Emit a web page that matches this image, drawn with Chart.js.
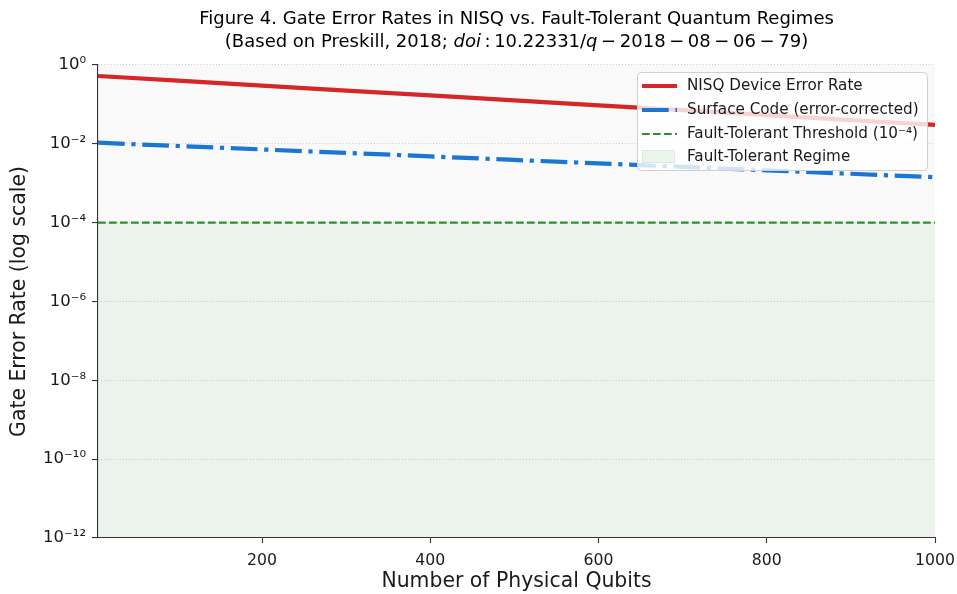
<!DOCTYPE html>
<html>
<head>
<meta charset="utf-8">
<script src="https://cdn.jsdelivr.net/npm/chart.js@4.4.1/dist/chart.umd.min.js"></script>
<style>
    html, body { margin: 0; padding: 0; background: #ffffff; }
    #chart { display: block; }
</style>
</head>
<body>
<canvas id="chart" width="957" height="594"></canvas>
<script>
// 値
const qubits = [5, 100, 200, 300, 400, 500, 600, 700, 800, 900, 1000];
const nisqErrorRate = [0.526, 0.40, 0.30, 0.225, 0.169, 0.127, 0.095, 0.0713, 0.0534, 0.0401, 0.0301];
const surfaceCodeErrorRate = [0.0107, 0.0088, 0.0072, 0.0059, 0.0048, 0.0039, 0.0032, 0.0026, 0.00213, 0.00174, 0.00142];
const thresholdValue = 1e-4;
const regimeFloor = 1e-12;
const xTicks = [200, 400, 600, 800, 1000];
const yTickExponents = [-12, -10, -8, -6, -4, -2, 0];

const titleLine1 = 'Figure 4. Gate Error Rates in NISQ vs. Fault-Tolerant Quantum Regimes';
const titleLine2 = [
    { text: '(Based on Preskill, 2018; ', italic: false },
    { text: 'doi', italic: true },
    { text: '\u2009:\u200910.22331/', italic: false },
    { text: 'q', italic: true },
    { text: '\u2009\u2212\u20092018\u2009\u2212\u200908\u2009\u2212\u200906\u2009\u2212\u200979)', italic: false }
];
const legendLabels = ['NISQ Device Error Rate', 'Surface Code (error-corrected)', 'Fault-Tolerant Threshold (10\u207B\u2074)', 'Fault-Tolerant Regime'];

const FONT = '"DejaVu Sans", "Liberation Sans", sans-serif';
const RED = '#d62728';
const BLUE = '#1976d2';
const GREEN = '#2b922b';
const REGIME_FILL = 'rgba(0, 128, 0, 0.05)';

const SUP = { '-': '\u207B', '0': '\u2070', '1': '\u00B9', '2': '\u00B2', '3': '\u00B3', '4': '\u2074', '5': '\u2075', '6': '\u2076', '7': '\u2077', '8': '\u2078', '9': '\u2079' };
function powerLabel(exp) {
    return '10' + String(exp).split('').map(c => SUP[c]).join('');
}

function toPoints(ys) {
    return qubits.map((x, i) => ({ x: x, y: ys[i] }));
}

// 背景（プロット領域は薄いグレー）
const backgroundPlugin = {
    id: 'areaBackground',
    beforeDraw(chart) {
        const { ctx, chartArea } = chart;
        ctx.save();
        ctx.fillStyle = '#ffffff';
        ctx.fillRect(0, 0, chart.width, chart.height);
        ctx.fillStyle = '#f9f9f9';
        ctx.fillRect(chartArea.left, chartArea.top, chartArea.right - chartArea.left, chartArea.bottom - chartArea.top);
        ctx.restore();
    }
};

// タイトル（2行目は斜体を含む）
const titlePlugin = {
    id: 'figureTitle',
    afterDraw(chart) {
        const { ctx, chartArea } = chart;
        const cx = (chartArea.left + chartArea.right) / 2;
        const size = 18;
        ctx.save();
        ctx.fillStyle = '#000000';
        ctx.textBaseline = 'middle';
        ctx.textAlign = 'center';
        ctx.font = size + 'px ' + FONT;
        ctx.fillText(titleLine1, cx, 19);

        let total = 0;
        titleLine2.forEach(p => {
            ctx.font = (p.italic ? 'italic ' : '') + size + 'px ' + FONT;
            p.w = ctx.measureText(p.text).width;
            total += p.w;
        });
        ctx.textAlign = 'left';
        let x = cx - total / 2;
        titleLine2.forEach(p => {
            ctx.font = (p.italic ? 'italic ' : '') + size + 'px ' + FONT;
            ctx.fillText(p.text, x, 42);
            x += p.w;
        });
        ctx.restore();
    }
};

// 凡例（右上、半透明の白い箱）
const legendPlugin = {
    id: 'boxLegend',
    afterDraw(chart) {
        const ctx = chart.ctx;
        const box = { x: 637.5, y: 72.5, w: 290, h: 98 };
        ctx.save();
        ctx.beginPath();
        ctx.roundRect(box.x, box.y, box.w, box.h, 4);
        ctx.fillStyle = 'rgba(255, 255, 255, 0.8)';
        ctx.fill();
        ctx.strokeStyle = '#d0d0d0';
        ctx.lineWidth = 1;
        ctx.stroke();

        const x0 = 642, x1 = 677, textX = 687;
        const rows = [86, 110, 134, 157];
        ctx.lineCap = 'butt';

        // NISQ
        ctx.strokeStyle = RED;
        ctx.lineWidth = 4.2;
        ctx.setLineDash([]);
        ctx.beginPath(); ctx.moveTo(x0, rows[0]); ctx.lineTo(x1, rows[0]); ctx.stroke();

        // Surface code
        ctx.strokeStyle = BLUE;
        ctx.setLineDash([26.7, 6.7, 4.2, 6.7]);
        ctx.beginPath(); ctx.moveTo(x0, rows[1]); ctx.lineTo(x1, rows[1]); ctx.stroke();

        // Threshold
        ctx.strokeStyle = GREEN;
        ctx.lineWidth = 2.1;
        ctx.setLineDash([7.7, 3.3]);
        ctx.beginPath(); ctx.moveTo(x0, rows[2]); ctx.lineTo(x1, rows[2]); ctx.stroke();

        // Regime patch
        ctx.setLineDash([]);
        ctx.fillStyle = 'rgba(0, 128, 0, 0.07)';
        ctx.fillRect(x0, rows[3] - 7, x1 - x0 - 2, 13);
        ctx.strokeStyle = 'rgba(0, 128, 0, 0.08)';
        ctx.lineWidth = 1;
        ctx.strokeRect(x0 + 0.5, rows[3] - 6.5, x1 - x0 - 3, 12);

        ctx.fillStyle = '#1a1a1a';
        ctx.font = '15.2px ' + FONT;
        ctx.textBaseline = 'middle';
        ctx.textAlign = 'left';
        legendLabels.forEach((label, i) => ctx.fillText(label, textX, rows[i]));
        ctx.restore();
    }
};

const ctx = document.getElementById('chart').getContext('2d');
new Chart(ctx, {
    type: 'line',
    data: {
        datasets: [
            {
                label: legendLabels[0],
                data: toPoints(nisqErrorRate),
                borderColor: RED,
                borderWidth: 4.2,
                borderCapStyle: 'butt',
                pointRadius: 0,
                tension: 0,
                fill: false,
                order: 1
            },
            {
                label: legendLabels[1],
                data: toPoints(surfaceCodeErrorRate),
                borderColor: BLUE,
                borderWidth: 4.2,
                borderCapStyle: 'butt',
                borderDash: [26.7, 6.7, 4.2, 6.7],
                pointRadius: 0,
                tension: 0,
                fill: false,
                order: 2
            },
            {
                label: legendLabels[2],
                data: [{ x: qubits[0], y: thresholdValue }, { x: qubits[qubits.length - 1], y: thresholdValue }],
                borderColor: GREEN,
                borderWidth: 2.1,
                borderCapStyle: 'butt',
                borderDash: [7.7, 3.3],
                pointRadius: 0,
                fill: false,
                order: 3
            },
            {
                label: legendLabels[3],
                data: [{ x: qubits[0], y: thresholdValue }, { x: qubits[qubits.length - 1], y: thresholdValue }],
                borderWidth: 0,
                borderColor: 'rgba(0,0,0,0)',
                backgroundColor: REGIME_FILL,
                pointRadius: 0,
                fill: { value: regimeFloor },
                order: 4
            }
        ]
    },
    options: {
        responsive: false,
        devicePixelRatio: 1,
        animation: false,
        layout: { padding: { left: 0, top: 65, right: 22, bottom: 0 } },
        plugins: {
            legend: { display: false },
            title: { display: false },
            tooltip: { enabled: false }
        },
        scales: {
            x: {
                type: 'linear',
                min: qubits[0],
                max: qubits[qubits.length - 1],
                afterBuildTicks: scale => { scale.ticks = xTicks.map(v => ({ value: v })); },
                afterFit: scale => {
                    scale.height = 56;
                    scale.paddingLeft = 0;
                    scale.paddingRight = 0;
                },
                grid: {
                    drawOnChartArea: false,
                    drawTicks: true,
                    tickLength: 5,
                    tickColor: '#333333',
                    tickWidth: 1.1
                },
                border: { display: true, color: '#333333', width: 1.1 },
                ticks: {
                    color: '#1a1a1a',
                    font: { family: FONT, size: 15.7 },
                    padding: 9,
                    maxRotation: 0,
                    callback: v => String(v)
                },
                title: {
                    display: true,
                    text: 'Number of Physical Qubits',
                    color: '#1a1a1a',
                    font: { family: FONT, size: 20.4 },
                    padding: { top: -2, bottom: 0 }
                }
            },
            y: {
                type: 'logarithmic',
                min: regimeFloor,
                max: 1,
                afterBuildTicks: scale => { scale.ticks = yTickExponents.map(e => ({ value: Math.pow(10, e) })); },
                afterFit: scale => {
                    scale.width = 98;
                    scale.paddingTop = 0;
                    scale.paddingBottom = 0;
                },
                grid: {
                    drawOnChartArea: true,
                    drawTicks: true,
                    color: '#cfcfcf',
                    lineWidth: 1.1,
                    tickLength: 6,
                    tickColor: '#333333',
                    tickWidth: 1.1,
                    tickBorderDash: []
                },
                border: { display: true, color: '#333333', width: 1.1, dash: [1.1, 2] },
                ticks: {
                    color: '#1a1a1a',
                    font: { family: FONT, size: 16.5 },
                    padding: 6,
                    callback: v => powerLabel(Math.round(Math.log10(v)))
                },
                title: {
                    display: true,
                    text: 'Gate Error Rate (log scale)',
                    color: '#1a1a1a',
                    font: { family: FONT, size: 20.4 },
                    padding: { top: 7, bottom: 0 }
                }
            }
        }
    },
    plugins: [backgroundPlugin, titlePlugin, legendPlugin]
});
</script>
</body>
</html>
